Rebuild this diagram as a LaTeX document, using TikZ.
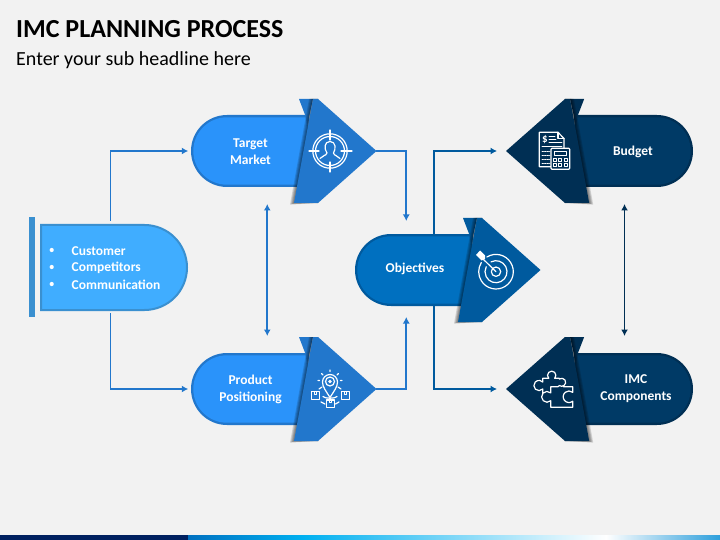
\documentclass[tikz,border=0pt]{standalone}
\usepackage{fontspec}
\setmainfont{Carlito}
\usetikzlibrary{arrows.meta}
\definecolor{bg}{HTML}{F2F2F2}
\definecolor{tmfill}{HTML}{2A93FA}
\definecolor{tmdark}{HTML}{2277CC}
\definecolor{obfill}{HTML}{0070C0}
\definecolor{obdark}{HTML}{005A9E}
\definecolor{bufill}{HTML}{003A66}
\definecolor{budark}{HTML}{002F54}
\definecolor{cufill}{HTML}{40ADFF}
\definecolor{cudark}{HTML}{3A90D0}
\definecolor{navy}{HTML}{002060}
\definecolor{skyband}{HTML}{00B0F0}
\definecolor{endband}{HTML}{2D9FDC}
\tikzset{
  x=1pt,y=-1pt,
  anchorbox/.style={inner sep=0pt,outer sep=0pt,minimum width=185pt,minimum height=104pt},
  label/.style={text=white,align=center,font=\fontsize{13.5}{16.9}\selectfont\bfseries,inner sep=0pt},
  conn/.style={line width=1.8pt,-{Latex[length=6.5pt,width=7pt]}},
  connboth/.style={line width=1.8pt,{Latex[length=6.5pt,width=7pt]}-{Latex[length=6.5pt,width=7pt]}},
  icon/.style={draw=white,line width=1.2pt,line cap=round,line join=round},
}
% name, x of pill's round end, y of centre, direction, fill, dark
\newcommand{\pillarrow}[6]{%
  \begin{scope}[shift={(#2,#3)},xscale=#4]
    \fill[#6] (0,-36) ++(36,0) arc[start angle=270,end angle=90,radius=36] -- (112,36) -- (118,-36) -- cycle;
    \fill[#5] (36,-33.7) arc[start angle=270,end angle=90,radius=33.7] -- (112,33.7) -- (118,-33.7) -- cycle;
    \fill[#6] (108,-52) -- (122,-52) -- (116,-25) -- (114.5,-35) -- cycle;
    \foreach \d in {1,2,3,4}{
      \fill[black,opacity=.14] ({122-\d},-52) -- (127,-52) -- (127,52) -- ({103-\d},{52+\d*.4}) -- cycle;
    }
    \fill[#6] (122,-52) -- (127,-52) -- (185.5,0) -- (127,52) -- (103,52) -- cycle;
    \node[anchorbox] (#1) at (92.75,0) {};
  \end{scope}}
\begin{document}
\begin{tikzpicture}
\useasboundingbox (0,0) rectangle (720,540);
\fill[bg] (0,0) rectangle (720,540);
% footer band
\fill[navy] (0,535) rectangle (188,540);
\shade[left color=obfill,right color=skyband] (188,535) rectangle (303,540);
\shade[left color=skyband,right color=white] (303,535) rectangle (606,540);
\shade[left color=white,right color=endband] (606,535) rectangle (720,540);
% titles
\node[anchor=base west,inner sep=0pt,font=\fontsize{26}{30}\selectfont\bfseries] (ttl) at (16,37.5) {IMC PLANNING PROCESS};
\node[anchor=base west,inner sep=0pt,font=\fontsize{20}{24}\selectfont] (sub) at (16,66) {Enter your sub headline here};
% customer box
\fill[cudark] (29,217) rectangle (35,317);
\node[inner sep=0pt,outer sep=0pt,minimum width=148pt,minimum height=87pt] (cust) at (114,267.5) {};
\draw[fill=cufill,draw=cudark,line width=2pt] (41,225) -- (144.5,225) arc[start angle=270,end angle=450,radius=42.5] -- (41,310) -- cycle;
% pills
\pillarrow{bud}{693}{151}{-1.008}{bufill}{budark}
\pillarrow{imc}{693}{389}{-1.008}{bufill}{budark}
\coordinate (hub) at (434,270);
\draw[connboth,draw=obdark] ([xshift=-10pt]bud.west) -| (hub) |- ([xshift=-10pt]imc.west);
\pillarrow{obj}{355}{270}{1}{obfill}{obdark}
\pillarrow{tm}{191}{151}{1}{tmfill}{tmdark}
\pillarrow{pp}{191}{389}{1}{tmfill}{tmdark}
% connectors
\draw[conn,draw=tmdark] ([xshift=-3.5pt,yshift=3pt]cust.north) |- ([xshift=-3pt]tm.west);
\draw[conn,draw=tmdark] ([xshift=-3.5pt,yshift=-2pt]cust.south) |- ([xshift=-3pt]pp.west);
\draw[conn,draw=tmdark] (tm.east) -| ([xshift=-41.5pt,yshift=-3pt]obj.north);
\draw[conn,draw=tmdark] (pp.east) -| ([xshift=-41.5pt,yshift=5pt]obj.south);
\draw[connboth,draw=tmdark] ([xshift=-16.5pt,yshift=-1pt]tm.south) -- ([xshift=-16.5pt,yshift=1pt]pp.north);
\draw[connboth,draw=budark] ([xshift=25pt,yshift=-1pt]bud.south) -- ([xshift=25pt,yshift=1pt]imc.north);
% labels
\node[label] (l1) at (250.5,151.5) {Target\\Market};
\node[label] (l2) at (250.5,389) {Product\\Positioning};
\node[label] (l3) at (415,269) {Objectives};
\node[label] (l4) at (633,152) {Budget};
\node[label] (l5) at (636,389) {IMC\\Components};
\node[label,anchor=west] (c1) at (71.5,251) {Customer};
\node[label,anchor=west] (c2) at (71.5,268) {Competitors};
\node[label,anchor=west] (c3) at (71.5,285) {Communication};
\fill[white] (51.7,250) circle (2.1) (51.7,267) circle (2.1) (51.7,284) circle (2.1);
% icon: target person
\draw[icon] (330,151) circle (17.2) (330,151) circle (14.5);
\draw[icon] (309,151) -- (319,151) (341,151) -- (352,151) (330,130) -- (330,140) (330,162) -- (330,172);
\draw[icon] (320,158.5) .. controls (322,155.5) and (326,156) .. (327,153) .. controls (324,149) and (324,141.5) .. (330,141.5) .. controls (336,141.5) and (336,149) .. (333.5,153) .. controls (334,156) and (338,155.5) .. (340,158.5);
% icon: product positioning
\draw[icon] (330,397.5) .. controls (326,391) and (322.5,387) .. (322.5,382) arc[start angle=180,end angle=360,radius=7.5] .. controls (337.5,387) and (334,391) .. (330,397.5) -- cycle;
\draw[icon] (330,381.5) circle (4.5);
\fill[white] (330,381.5) circle (1.8);
\draw[icon] (330,370) -- (330,371.5) (321.5,373.5) -- (323,375) (338.5,373.5) -- (337,375) (318,380.5) -- (319.5,380.5) (342,380.5) -- (340.5,380.5);
\draw[icon] (323,396.5) .. controls (325,398.8) and (335,398.8) .. (337,396.5);
\draw[icon] (311.7,391.7) rectangle (319.3,399.3) (341.7,391.7) rectangle (349.3,399.3) (326.7,400) rectangle (334.3,407.3);
\draw[icon,line width=.8pt] (314.5,391.7) -- (314.5,394.5) -- (316.5,394.5) -- (316.5,391.7) (344.5,391.7) -- (344.5,394.5) -- (346.5,394.5) -- (346.5,391.7) (329.5,400) -- (329.5,402.8) -- (331.5,402.8) -- (331.5,400);
\draw[icon] (322,387) -- (319,389) (338,387) -- (341,389) (321,402) -- (325,404) (339,402) -- (335.5,404);
% icon: objectives
\coordinate (oc) at (496,271.7);
\draw[icon] (oc) ++(238:17.3) arc[start angle=238,end angle=572,radius=17.3];
\draw[icon] (oc) ++(243:11) arc[start angle=243,end angle=567,radius=11];
\draw[icon] (oc) circle (4.7);
\draw[icon] (oc) -- (481,257);
\fill[white] (476,255) -- (480,250.5) -- (485,255.5) -- (485,259) -- (481.5,260.5) -- cycle;
% icon: budget
\draw[icon] (551,166.7) -- (539.3,166.7) -- (539.3,132.3) -- (558,132.3) -- (564,138.5) -- (564,148.3);
\draw[icon] (558,132.3) -- (558,138.5) -- (564,138.5);
\node[text=white,inner sep=0pt,font=\fontsize{11}{11}\selectfont\bfseries] (dol) at (545,139.5) {\$};
\draw[icon,line width=.8pt] (549,136) -- (555,136) (549,139) -- (556,139) (549,142) -- (562,142) (542,146) -- (562,146);
\draw[icon,line width=.8pt,dash pattern=on 1.5pt off 1pt] (542,151) -- (550,151) (542,155) -- (550,155) (542,159) -- (550,159) (542,163) -- (550,163);
\draw[icon,fill=budark,rounded corners=1pt] (551,148.3) rectangle (569.7,169.3);
\draw[icon,line width=.9pt] (554,151.8) rectangle (566.5,155.5);
\foreach \xx in {555,560.3,565.6} \foreach \yy in {160,165}{
  \draw[icon,line width=.9pt] (\xx-1.4,\yy-1.4) rectangle (\xx+1.4,\yy+1.4);
}
% icon: puzzle
\draw[icon] (542.7,393.5) -- (542.7,389) arc[start angle=-317,end angle=-43,radius=5.1] -- (542.7,378.3) -- (548.73,378.3)
  arc[start angle=135,end angle=405,radius=4.2] -- (559.4,378.3) -- (559.4,379) arc[start angle=235,end angle=485,radius=4] -- (558,386.7) -- (550.7,386.7) -- (550.7,392.9)
  arc[start angle=313.5,end angle=46.5,radius=5.4] -- (550.7,407.3) -- (572.7,407.3) -- (572.7,401.2)
  arc[start angle=50,end angle=310,radius=5.8] -- (572.7,386.7) -- (563.5,386.7);
\end{tikzpicture}
\end{document}
